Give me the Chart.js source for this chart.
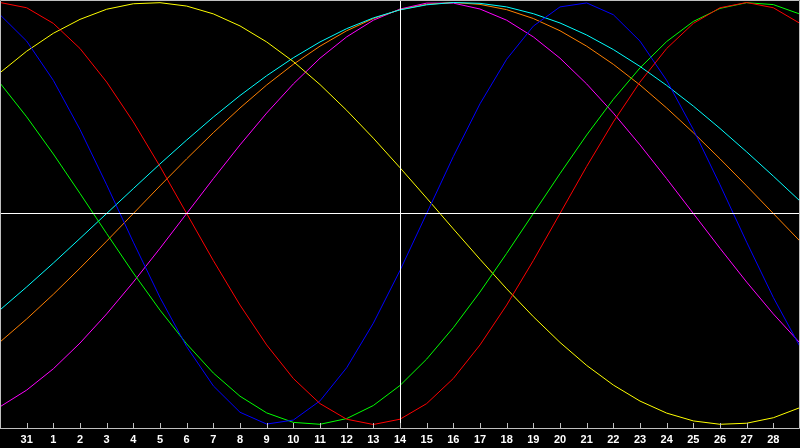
<!DOCTYPE html>
<html><head><meta charset="utf-8">
<script src="https://cdn.jsdelivr.net/npm/chart.js@4/dist/chart.umd.min.js"></script>
<style>html,body{margin:0;padding:0;background:#000;overflow:hidden}#c{display:block}</style>
</head><body>
<canvas id="c" width="800" height="448"></canvas>
<script>
// Day labels along the bottom (first and last are not shown)
const dayLabels = ['30','31','1','2','3','4','5','6','7','8','9','10','11','12','13','14','15','16','17','18','19','20','21','22','23','24','25','26','27','28','1'];
const todayIndex = 15;

// Cycle values (-1 .. 1), one per day
const physical    = [0.942,0.817,0.631,0.398,0.136,-0.136,-0.398,-0.631,-0.817,-0.942,-0.998,-0.979,-0.888,-0.731,-0.520,-0.270,0,0.270,0.520,0.731,0.888,0.979,0.998,0.942,0.817,0.631,0.398,0.136,-0.136,-0.398,-0.631];
const emotional   = [1,0.975,0.901,0.782,0.623,0.434,0.223,0,-0.223,-0.434,-0.623,-0.782,-0.901,-0.975,-1,-0.975,-0.901,-0.782,-0.623,-0.434,-0.223,0,0.223,0.434,0.623,0.782,0.901,0.975,1,0.975,0.901];
const intellectual= [0.618,0.458,0.282,0.095,-0.095,-0.282,-0.458,-0.618,-0.756,-0.866,-0.945,-0.990,-0.999,-0.972,-0.910,-0.815,-0.690,-0.541,-0.372,-0.189,0,0.189,0.372,0.541,0.690,0.815,0.910,0.972,0.999,0.990,0.945];
const intuitive   = [-0.916,-0.837,-0.736,-0.614,-0.476,-0.325,-0.165,0,0.165,0.325,0.476,0.614,0.736,0.837,0.916,0.969,0.997,0.997,0.969,0.916,0.837,0.736,0.614,0.476,0.325,0.165,0,-0.165,-0.325,-0.476,-0.614];
const aesthetic   = [0.667,0.769,0.854,0.920,0.968,0.994,0.999,0.983,0.946,0.889,0.813,0.720,0.611,0.489,0.357,0.217,0.073,-0.073,-0.217,-0.357,-0.489,-0.611,-0.720,-0.813,-0.889,-0.946,-0.983,-0.999,-0.994,-0.968,-0.920];
const awareness   = [-0.609,-0.5,-0.383,-0.259,-0.131,0,0.131,0.259,0.383,0.5,0.609,0.707,0.793,0.866,0.924,0.966,0.991,1,0.991,0.966,0.924,0.866,0.793,0.707,0.609,0.5,0.383,0.259,0.131,0,-0.131];
const spiritual   = [-0.457,-0.348,-0.235,-0.118,0,0.118,0.235,0.348,0.457,0.559,0.653,0.738,0.813,0.876,0.927,0.965,0.989,1.000,0.996,0.979,0.947,0.903,0.846,0.777,0.697,0.607,0.509,0.403,0.292,0.177,0.059];

const seriesNames  = ['Emotional','Physical','Intellectual','Aesthetic','Spiritual','Awareness','Intuitive'];
const seriesData   = [emotional, physical, intellectual, aesthetic, spiritual, awareness, intuitive];
const seriesColors = ['#ff0000','#0000ff','#00ff00','#ffff00','#00ffff','#ff8000','#ff00ff'];

const overlay = {
  id: 'overlay',
  beforeDraw(chart) {
    const c = chart.ctx;
    c.save(); c.fillStyle = '#000'; c.fillRect(0, 0, chart.width, chart.height); c.restore();
  },
  afterDatasetsDraw(chart) {
    const c = chart.ctx, x = chart.scales.x, y = chart.scales.y, a = chart.chartArea;
    c.save();
    c.lineWidth = 1;
    c.strokeStyle = '#ffffff';
    const zy = Math.round(y.getPixelForValue(0)) + 0.5;
    c.beginPath(); c.moveTo(a.left, zy); c.lineTo(a.right, zy); c.stroke();
    const tx = Math.round(x.getPixelForValue(todayIndex)) + 0.5;
    c.beginPath(); c.moveTo(tx, a.top); c.lineTo(tx, a.bottom); c.stroke();
    // frame and inward ticks
    c.strokeStyle = '#c0c0c0';
    c.beginPath();
    c.moveTo(0.5, a.bottom + 0.5); c.lineTo(0.5, 0.5); c.lineTo(799.5, 0.5); c.lineTo(799.5, a.bottom + 0.5); c.lineTo(0, a.bottom + 0.5);
    c.stroke();
    c.beginPath();
    for (let i = 1; i < dayLabels.length - 1; i++) {
      const px = Math.round(x.getPixelForValue(i)) + 0.5;
      c.moveTo(px, a.bottom - 5); c.lineTo(px, a.bottom);
    }
    c.stroke();
    c.restore();
  }
};

new Chart(document.getElementById('c'), {
  type: 'line',
  data: {
    labels: dayLabels,
    datasets: seriesData.map((d, i) => ({
      label: seriesNames[i], data: d, borderColor: seriesColors[i], borderWidth: 1,
      pointRadius: 0, tension: 0, fill: false
    }))
  },
  options: {
    responsive: false, animation: false, devicePixelRatio: 1,
    layout: { padding: 0 },
    plugins: { legend: { display: false }, tooltip: { enabled: false } },
    scales: {
      x: {
        type: 'category', offset: false,
        grid: { display: false, drawTicks: false },
        border: { display: false },
        ticks: {
          autoSkip: false, maxRotation: 0, minRotation: 0, padding: 5,
          color: '#ffffff',
          font: { family: '"Liberation Sans", Arial, sans-serif', size: 11, weight: 'bold' },
          callback: function(v, i) { return (i === 0 || i === dayLabels.length - 1) ? '' : dayLabels[i]; }
        },
        afterFit(s) { s.height = 20; s.paddingLeft = 0; s.paddingRight = 0; }
      },
      y: { display: false, min: -1.0166, max: 1.0118 }
    }
  },
  plugins: [overlay]
});
</script>
</body></html>
